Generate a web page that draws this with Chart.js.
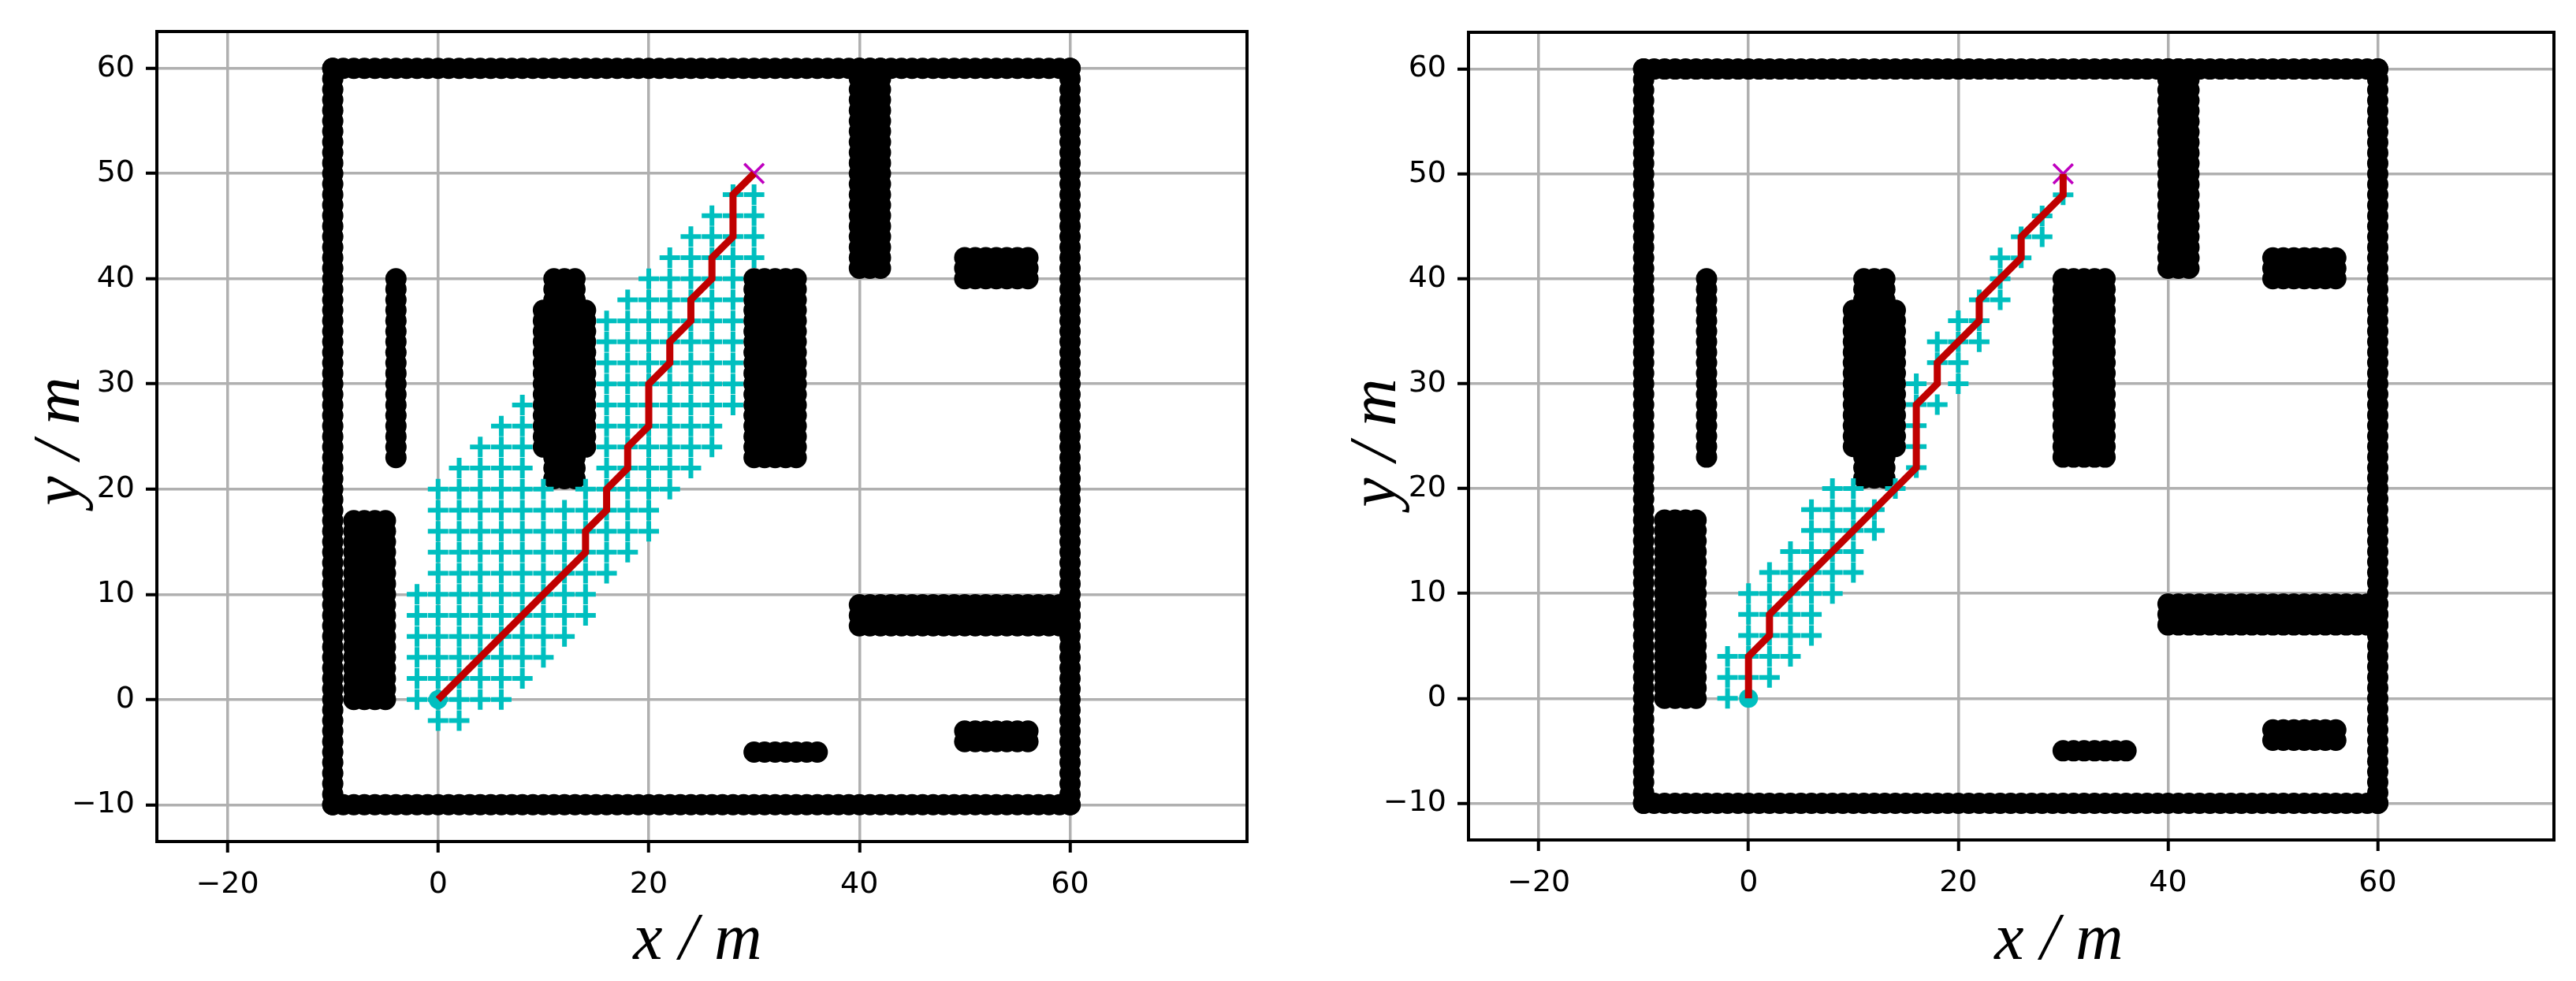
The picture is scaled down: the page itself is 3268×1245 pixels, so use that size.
<!DOCTYPE html>
<html><head><meta charset="utf-8">
<script src="https://cdn.jsdelivr.net/npm/chart.js@4/dist/chart.umd.min.js"></script>
<style>
html,body{margin:0;padding:0;background:#fff;}
#wrap{position:relative;width:3268px;height:1245px;}
.c{position:absolute;top:0;width:1634px;height:1245px;}
</style></head>
<body><div id="wrap">
<div class="c" style="left:0"><canvas id="c1" width="1634" height="1245"></canvas></div>
<div class="c" style="left:1634px"><canvas id="c2" width="1634" height="1245"></canvas></div>
</div>
<script>
// ---- data ----
const xTicks = [-20, 0, 20, 40, 60];
const yTicks = [-10, 0, 10, 20, 30, 40, 50, 60];
// obstacle rectangles [x0, x1, y0, y1] (dots every 1 m)
const obstacleRects = [
  [-10, 60, -10, -10], [-10, 60, 60, 60], [-10, -10, -10, 60], [60, 60, -10, 60],
  [-8, -5, 0, 17], [-4, -4, 23, 40],
  [11, 13, 21, 40], [10, 14, 24, 37],
  [30, 34, 23, 40], [40, 42, 41, 60], [50, 56, 40, 42],
  [40, 60, 7, 9], [30, 36, -5, -5], [50, 56, -4, -3]
];
const start = [0, 0];
const goal = [30, 50];
// explored nodes rows [y, xFrom, xTo] (step 2 m)
const visitedLeft = [
  [-2,0,2],[0,-2,6],[2,-2,8],[4,-2,10],[6,-2,12],[8,-2,14],[10,-2,14],[12,0,16],
  [14,0,18],[16,0,20],[18,0,20],[20,0,10],[20,14,22],[22,2,8],[22,16,24],
  [24,4,8],[24,16,26],[26,6,8],[26,16,26],[28,8,8],[28,16,28],[30,16,28],[32,16,28],
  [34,16,28],[36,16,28],[38,18,28],[40,20,28],[42,22,30],[44,24,30],[46,26,30],[48,28,30]
];
const pathLeft = [[0,0],[14,14],[14,16],[16,18],[16,20],[18,22],[18,24],[20,26],[20,30],
  [22,32],[22,34],[24,36],[24,38],[26,40],[26,42],[28,44],[28,48],[30,50]];
const visitedRight = [
  [0,-2,-2],[2,-2,2],[4,-2,4],[6,0,6],[8,0,6],[10,0,8],[12,2,10],[14,4,10],[16,6,12],
  [18,6,12],[20,8,10],[20,14,14],[22,16,16],[24,16,16],[26,16,16],[28,16,18],
  [30,16,16],[30,20,20],[32,18,20],[34,18,22],[36,20,22],[38,22,24],[40,24,24],
  [42,24,26],[44,26,28],[46,28,28],[48,30,30]
];
const pathRight = [[0,0],[0,4],[2,6],[2,8],[16,22],[16,28],[18,30],[18,32],[22,36],
  [22,38],[26,42],[26,44],[30,48],[30,50]];

// ---- build ----
function rectPoints(rects){const p=[];for(const [x0,x1,y0,y1] of rects){for(let x=x0;x<=x1;x++)for(let y=y0;y<=y1;y++)p.push({x,y});}return p;}
function rowPoints(rows){const p=[];for(const [y,a,b] of rows){for(let x=a;x<=b;x+=2)p.push({x,y});}return p;}
const toXY = a => a.map(([x,y])=>({x,y}));

function makeChart(id, visited, path, cfg){
  const frame = {id:'frame'+id, afterDraw(ch){const a=ch.chartArea,c=ch.ctx;c.save();c.strokeStyle='#000';c.lineWidth=4;
      c.strokeRect(a.left,a.top,a.right-a.left,a.bottom-a.top);
      c.fillStyle='#000';c.textAlign='center';c.textBaseline='alphabetic';
      c.font='italic 84px "Liberation Serif"';
      c.fillText('x / m',cfg.xlx,1217);
      c.translate(cfg.ylx,cfg.yly);c.rotate(-Math.PI/2);c.fillText('y / m',0,0);
      c.restore();}};
  return new Chart(document.getElementById(id),{
    type:'scatter',
    data:{datasets:[
      {data:toXY(path),showLine:true,borderColor:'#c00000',borderWidth:9,pointRadius:0,fill:false,borderJoinStyle:'miter'},
      {data:[{x:goal[0],y:goal[1]}],pointStyle:'crossRot',pointRadius:17.5,borderColor:'#bf00bf',borderWidth:3.5,backgroundColor:'#bf00bf'},
      {data:[{x:start[0],y:start[1]}],pointStyle:'circle',pointRadius:12,backgroundColor:'#00bfbf',borderWidth:0},
      {data:rowPoints(visited),pointStyle:'cross',pointRadius:13,borderColor:'#00bfbf',borderWidth:6},
      {data:rectPoints(obstacleRects),pointStyle:'circle',pointRadius:13.5,backgroundColor:'#000',borderWidth:0}
    ]},
    options:{
      responsive:false,animation:false,devicePixelRatio:1,
      layout:{padding:{left:0,top:cfg.top,right:cfg.right,bottom:0}},
      plugins:{legend:{display:false},tooltip:{enabled:false}},
      scales:{
        x:{type:'linear',min:-26.7,max:76.8,
          afterBuildTicks(s){s.ticks=xTicks.map(v=>({value:v}));},
          afterFit(s){s.height=cfg.xh;},
          grid:{color:'#b0b0b0',lineWidth:3.5,tickColor:'#000',tickLength:14,tickWidth:4},
          border:{display:true,color:'#000',width:4},
          ticks:{color:'#000',font:{family:'DejaVu Sans',size:38},padding:18,maxRotation:0,
            callback:v=>String(v).replace('-','\u2212')}},
        y:{type:'linear',min:-13.5,max:63.5,
          afterBuildTicks(s){s.ticks=yTicks.map(v=>({value:v}));},
          afterFit(s){s.width=cfg.yw;},
          grid:{color:'#b0b0b0',lineWidth:3.5,tickColor:'#000',tickLength:14,tickWidth:4},
          border:{display:true,color:'#000',width:4},
          ticks:{color:'#000',font:{family:'DejaVu Sans',size:38},padding:14,
            callback:v=>String(v).replace('-','\u2212')}}
      }
    },
    plugins:[frame]
  });
}
makeChart('c1',visitedLeft,pathLeft,{top:40,right:52,xh:177,yw:199,xlx:885,ylx:100,yly:560});
makeChart('c2',visitedRight,pathRight,{top:41,right:28,xh:179,yw:229,xlx:978,ylx:136,yly:562});
</script></body></html>
